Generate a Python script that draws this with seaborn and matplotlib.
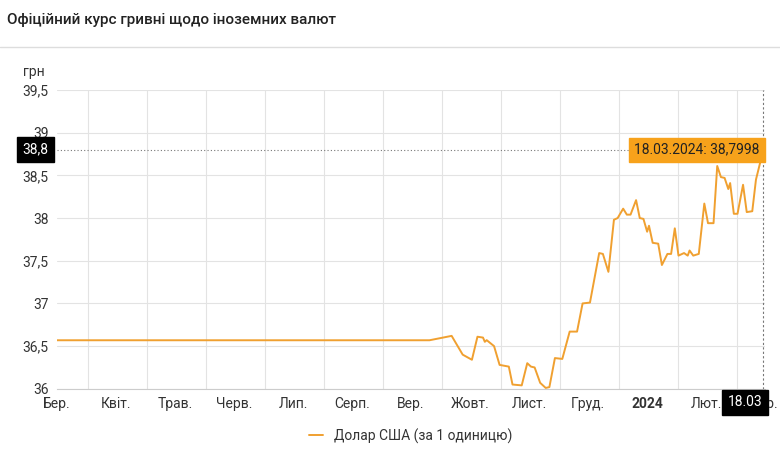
import datetime as dt
import matplotlib
matplotlib.use("Agg")
import matplotlib.pyplot as plt
import seaborn as sns
import pandas as pd

# ── Дані ──────────────────────────────────────────────────────
start = dt.date(2023, 3, 1)
day_offsets = [0, 202, 214, 220, 225, 228, 231, 232, 233, 237, 240, 245, 247, 252, 255,
               257, 259, 262, 265, 267, 270, 274, 278, 282, 285, 289, 294, 296, 299,
               302, 304, 307, 309, 311, 314, 316, 318, 320, 321, 323, 326, 328, 331,
               333, 335, 337, 340, 342, 343, 345, 348, 351, 353, 356, 358, 360, 362,
               364, 365, 367, 369, 372, 374, 377, 379, 383]
rates = [36.5686, 36.5686, 36.62, 36.40, 36.34, 36.61, 36.60, 36.55, 36.57, 36.50, 36.28,
         36.26, 36.05, 36.04, 36.30, 36.26, 36.25, 36.07, 36.01, 36.02, 36.36, 36.35,
         36.67, 36.67, 37.00, 37.01, 37.59, 37.58, 37.37, 37.98, 38.00, 38.11, 38.04,
         38.04, 38.21, 38.00, 37.99, 37.84, 37.91, 37.71, 37.70, 37.45, 37.58, 37.58,
         37.88, 37.56, 37.59, 37.56, 37.62, 37.56, 37.58, 38.17, 37.94, 37.94, 38.61,
         38.48, 38.47, 38.34, 38.41, 38.05, 38.05, 38.39, 38.07, 38.08, 38.45, 38.7998]
tick_labels = ["Бер.", "Квіт.", "Трав.", "Черв.", "Лип.", "Серп.", "Вер.", "Жовт.",
               "Лист.", "Груд.", "2024", "Лют.", "Бер."]
yticks = [36, 36.5, 37, 37.5, 38, 38.5, 39, 39.5]

df = pd.DataFrame({"date": [pd.Timestamp(start + dt.timedelta(days=d)) for d in day_offsets],
                   "rate": rates})

sns.set_style("white")
plt.rcParams["font.family"] = ["Roboto", "DejaVu Sans"]
ORANGE = "#F0A030"

fig = plt.figure(figsize=(7.8, 4.5), dpi=100)
ax = fig.add_axes([0.073, 0.136, 0.908, 0.664])

sns.lineplot(data=df, x="date", y="rate", ax=ax, color=ORANGE, linewidth=1.4,
             label="Долар США (за 1 одиницю)")

x0 = pd.Timestamp(start)
x1 = x0 + pd.Timedelta(days=384)
ax.set_xlim(x0, x1)
ax.set_ylim(36, 39.5)

tick_pos = [x0 + pd.Timedelta(days=32 * i) for i in range(len(tick_labels))]
ax.set_xticks(tick_pos)
ax.set_xticklabels(tick_labels)
ax.get_xticklabels()[10].set_fontweight("bold")
grid_pos = [x0 + pd.Timedelta(days=16.8 + 32 * i) for i in range(12)]
for g in grid_pos:
    ax.axvline(g, color="#e3e3e3", lw=0.8, zorder=0)
ax.set_yticks(yticks)
ax.set_yticklabels([f"{v:g}".replace(".", ",") for v in yticks])
ax.yaxis.grid(True, color="#e3e3e3", lw=0.8)
ax.tick_params(axis="both", labelsize=10, colors="#333333", length=0, pad=6)
ax.set_xlabel("")
ax.set_ylabel("")
for s in ["top", "right", "left"]:
    ax.spines[s].set_visible(False)
ax.spines["bottom"].set_color("#cccccc")

# маркери останнього значення
last_x, last_y = df["date"].iloc[-1], df["rate"].iloc[-1]
ax.axhline(last_y, color="#777777", lw=0.8, ls=(0, (1, 2)), zorder=1)
ax.axvline(last_x, color="#777777", lw=0.8, ls=(0, (2, 2)), zorder=1)
ax.text(last_x - pd.Timedelta(days=2), last_y, "18.03.2024: 38,7998", ha="right", va="center",
        fontsize=10, color="#222222",
        bbox=dict(boxstyle="square,pad=0.35", facecolor="#F7A21B", edgecolor="#F7A21B"))
ax.text(-0.012, last_y, "38,8", transform=ax.get_yaxis_transform(), ha="right", va="center",
        fontsize=10, color="white", zorder=10,
        bbox=dict(boxstyle="square,pad=0.4", facecolor="black", edgecolor="black"))
ax.text(last_x - pd.Timedelta(days=10), -0.045, "18.03", transform=ax.get_xaxis_transform(),
        ha="center", va="center", fontsize=10, color="white", zorder=10, clip_on=False,
        bbox=dict(boxstyle="square,pad=0.4", facecolor="black", edgecolor="black"))

ax.legend(loc="upper center", bbox_to_anchor=(0.5, -0.09), frameon=False, fontsize=10,
          handlelength=1.0, labelcolor="#333333")

fig.text(0.009, 0.955, "Офіційний курс гривні щодо іноземних валют", fontsize=11,
         fontweight="medium", color="#222222", va="center")
fig.add_artist(plt.Line2D([0, 1], [0.895, 0.895], color="#dddddd", lw=1))
fig.text(0.03, 0.84, "грн", fontsize=10, color="#333333", va="center")

fig.savefig("out.png", dpi=100)
